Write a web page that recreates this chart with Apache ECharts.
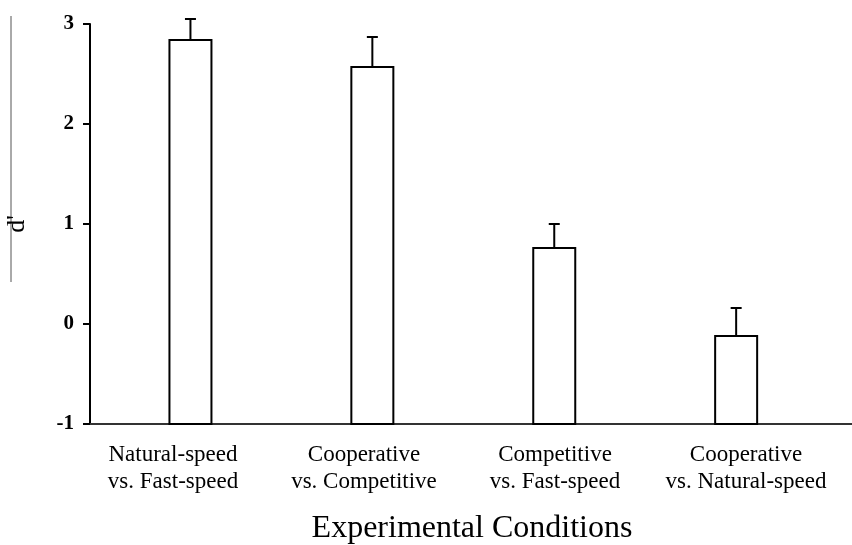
<!DOCTYPE html>
<html>
<head>
<meta charset="utf-8">
<script src="https://cdn.jsdelivr.net/npm/echarts@6/dist/echarts.min.js"></script>
<style>html,body{margin:0;padding:0;background:#fff}#c{width:852px;height:545px}</style>
</head>
<body>
<div id="c"></div>
<script>
const categories = ['Natural-speed\nvs. Fast-speed', 'Cooperative\nvs. Competitive', 'Competitive\nvs. Fast-speed', 'Cooperative\nvs. Natural-speed'];
const dPrime = [2.84, 2.57, 0.76, -0.12];
const errors = [0.21, 0.30, 0.24, 0.28];
const yMin = -1, yMax = 3, yStep = 1;
const xTitle = 'Experimental Conditions';
const yTitle = "d'";

const FONT = '"Liberation Serif", "Times New Roman", serif';
const chart = echarts.init(document.getElementById('c'), null, {renderer: 'canvas'});

const barData = dPrime.map((v, i) => [i, v]);
const errData = dPrime.map((v, i) => [i, v, errors[i]]);

const gridBase = {top: 24, bottom: 121, containLabel: false, outerBoundsMode: 'none'};

const option = {
  animation: false,
  backgroundColor: '#fff',
  grid: [
    Object.assign({left: 90, right: 0}, gridBase),
    Object.assign({left: 99.5, width: 727.6}, gridBase),
    Object.assign({left: 77.5, width: 764}, gridBase)
  ],
  xAxis: [
    {gridIndex: 0, type: 'category', data: categories,
     axisLine: {show: true, onZero: false, lineStyle: {color: '#333', width: 2}},
     axisTick: {show: false}, axisLabel: {show: false}, splitLine: {show: false}},
    {gridIndex: 1, type: 'category', data: categories, show: false},
    {gridIndex: 2, type: 'category', data: categories,
     axisLine: {show: false, onZero: false}, axisTick: {show: false}, splitLine: {show: false},
     axisLabel: {show: true, color: '#000', fontFamily: FONT, fontSize: 23, lineHeight: 27, margin: 17, interval: 0}}
  ],
  yAxis: [
    {gridIndex: 0, type: 'value', min: yMin, max: yMax, interval: yStep,
     name: yTitle, nameLocation: 'middle', nameGap: 60, nameRotate: 90,
     nameTextStyle: {color: '#000', fontFamily: FONT, fontSize: 26},
     axisLine: {show: true, lineStyle: {color: '#000', width: 2}},
     axisTick: {show: true, length: 7, lineStyle: {color: '#000', width: 2}},
     axisLabel: {color: '#000', fontFamily: FONT, fontSize: 21, fontWeight: 'bold', margin: 16},
     splitLine: {show: false}},
    {gridIndex: 1, type: 'value', min: yMin, max: yMax, interval: yStep, show: false},
    {gridIndex: 2, type: 'value', min: yMin, max: yMax, interval: yStep, show: false}
  ],
  series: [
    {
      type: 'custom', xAxisIndex: 1, yAxisIndex: 1, data: barData, z: 3,
      renderItem: function (params, api) {
        const i = api.value(0), v = api.value(1);
        const base = api.coord([i, yMin]);
        const top = api.coord([i, v]);
        const w = 42;
        return {type: 'rect',
          shape: {x: base[0] - w / 2, y: top[1], width: w, height: base[1] - top[1]},
          style: {fill: '#fff', stroke: '#000', lineWidth: 2}};
      }
    },
    {
      type: 'custom', xAxisIndex: 1, yAxisIndex: 1, data: errData, z: 4,
      renderItem: function (params, api) {
        const i = api.value(0), v = api.value(1), e = api.value(2);
        const p0 = api.coord([i, v]);
        const p1 = api.coord([i, v + e]);
        const cap = 11;
        const st = {stroke: '#000', lineWidth: 2};
        return {type: 'group', children: [
          {type: 'line', shape: {x1: p0[0], y1: p0[1], x2: p1[0], y2: p1[1]}, style: st},
          {type: 'line', shape: {x1: p1[0] - cap / 2, y1: p1[1], x2: p1[0] + cap / 2, y2: p1[1]}, style: st}
        ]};
      }
    }
  ],
  graphic: [
    {type: 'text', x: 472, y: 529,
     style: {text: xTitle, fill: '#000', font: '32px ' + FONT, textAlign: 'center', textVerticalAlign: 'middle'}},
    {type: 'line', shape: {x1: 11, y1: 16, x2: 11, y2: 282}, style: {stroke: '#555', lineWidth: 1}}
  ]
};
chart.setOption(option);
</script>
</body>
</html>
